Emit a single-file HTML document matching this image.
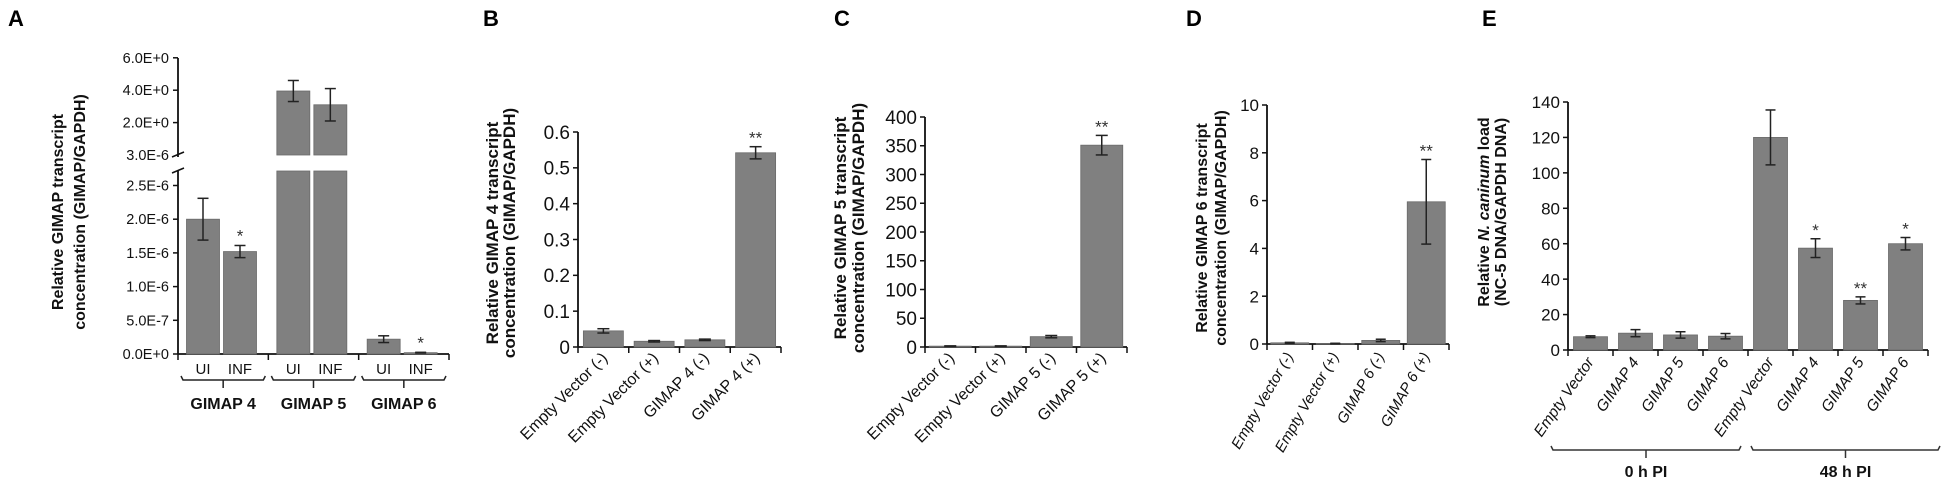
<!DOCTYPE html>
<html><head><meta charset="utf-8"><style>
html,body{margin:0;padding:0;background:#fff;}
svg{display:block;font-family:"Liberation Sans",Arial,sans-serif;}
</style></head><body>
<svg id="fig" width="1949" height="486" viewBox="0 0 1949 486"></svg>
<script>
// ---- Data ----
const aGroups = ["GIMAP 4","GIMAP 5","GIMAP 6"];
const aSub = ["UI","INF"];
const aLowVals = [2.0e-6,1.52e-6,null,null,2.2e-7,2e-8];
const aLowErr = [0.31e-6,0.09e-6,null,null,0.5e-7,0.5e-8];
const aHighVals = [null,null,3.95,3.1,null,null];
const aHighErr = [null,null,0.65,1.0,null,null];
const aStars = ["","*","","","","*"];
const aLowTicks = ["0.0E+0","5.0E-7","1.0E-6","1.5E-6","2.0E-6","2.5E-6"];
const aLowTickVals = [0,5e-7,1e-6,1.5e-6,2e-6,2.5e-6];
const aHighTicks = ["3.0E-6","2.0E+0","4.0E+0","6.0E+0"];
const aHighTickVals = [0,2,4,6];

const bCats = ["Empty Vector (-)","Empty Vector (+)","GIMAP 4 (-)","GIMAP 4 (+)"];
const bVals = [0.045,0.016,0.02,0.542];
const bErr = [0.006,0.002,0.002,0.017];
const bStars = ["","","","**"];
const bTicks = [0,0.1,0.2,0.3,0.4,0.5,0.6];

const cCats = ["Empty Vector (-)","Empty Vector (+)","GIMAP 5 (-)","GIMAP 5 (+)"];
const cVals = [1.5,1.5,18,351];
const cErr = [0.5,0.5,2,17];
const cStars = ["","","","**"];
const cTicks = [0,50,100,150,200,250,300,350,400];

const dCats = ["Empty Vector (-)","Empty Vector (+)","GIMAP 6 (-)","GIMAP 6 (+)"];
const dVals = [0.05,0.02,0.15,5.95];
const dErr = [0.02,0.01,0.05,1.77];
const dStars = ["","","","**"];
const dTicks = [0,2,4,6,8,10];

const eCats = ["Empty Vector","GIMAP 4","GIMAP 5","GIMAP 6","Empty Vector","GIMAP 4","GIMAP 5","GIMAP 6"];
const eVals = [7.5,9.5,8.5,7.8,120,57.5,28,60];
const eErr = [0.5,2,1.8,1.5,15.5,5.3,2,3.5];
const eStars = ["","","","","","*","**","*"];
const eTicks = [0,20,40,60,80,100,120,140];

// ---- helpers ----
const svg = document.getElementById('fig');
const NS = "http://www.w3.org/2000/svg";
function mk(tag, attrs, parent){
  const el = document.createElementNS(NS, tag);
  for (const k in attrs) el.setAttribute(k, attrs[k]);
  (parent||svg).appendChild(el);
  return el;
}
function txt(s, attrs, parent){ const t = mk('text', attrs, parent); t.textContent = s; return t; }
const BAR = "#808080", BARST = "#6a6a6a";

function errBar(g, cx, yTop, yBot, cap){
  const e = mk('g', {}, g);
  
  
  mk('line',{x1:cx,x2:cx,y1:yTop,y2:yBot,stroke:"#222","stroke-width":1.5},e);
  mk('line',{x1:cx-cap/2,x2:cx+cap/2,y1:yTop,y2:yTop,stroke:"#222","stroke-width":1.5},e);
  mk('line',{x1:cx-cap/2,x2:cx+cap/2,y1:yBot,y2:yBot,stroke:"#222","stroke-width":1.5},e);
}
function yTitle(g, lines, cx, cy, size, gap){
  const t = mk('text',{transform:`translate(${cx},${cy}) rotate(-90)`,"text-anchor":"middle","font-size":size,"font-weight":"bold",fill:"#111"},g);
  
  
  lines.forEach((ln,i)=>{
    const ts = mk('tspan',{x:0,y:i*gap},t);
    if (Array.isArray(ln)) ln.forEach(p=>{ const s=mk('tspan',p.i?{"font-style":"italic"}:{},ts); s.textContent=p.t; });
    else ts.textContent = ln;
  });
}
function panelLetter(s,x,y){
  const t = txt(s,{x:x,y:y,"font-size":22,"font-weight":"bold",fill:"#000"});
  
  
}

function simplePanel(o){
  const g = mk('g',{});
  
  
  const n = o.cats.length;
  const slot = (o.x1 - o.x0)/n;
  const yScale = v => o.y0 - (v - o.tickVals[0])/(o.tickVals[o.tickVals.length-1]-o.tickVals[0])*(o.y0-o.yTop);
  const ya = mk('line',{x1:o.x0,x2:o.x0,y1:o.yTop,y2:o.y0,stroke:"#111","stroke-width":1.8},g);
   
  const xa = mk('line',{x1:o.x0,x2:o.x1,y1:o.y0,y2:o.y0,stroke:"#111","stroke-width":1.8},g);
   
  o.tickVals.forEach(v=>{
    const y = yScale(v);
    mk('line',{x1:o.x0-5,x2:o.x0,y1:y,y2:y,stroke:"#111","stroke-width":1.5},g);
    const t = txt(String(v),{x:o.x0-8,y:y+o.tickSize*0.36,"text-anchor":"end","font-size":o.tickSize,fill:"#111"},g);
     
  });
  for (let i=0;i<=n;i++){
    const x = o.x0 + i*slot;
    mk('line',{x1:x,x2:x,y1:o.y0,y2:o.y0+6,stroke:"#111","stroke-width":1.5},g);
  }
  o.cats.forEach((c,i)=>{
    const cx = o.x0 + (i+0.5)*slot;
    const yv = yScale(o.vals[i]);
    const r = mk('rect',{x:cx-o.barW/2,y:yv,width:o.barW,height:o.y0-yv,fill:BAR,stroke:BARST,"stroke-width":0.8},g);
     
    const eT = yScale(o.vals[i]+o.err[i]), eB = yScale(Math.max(0,o.vals[i]-o.err[i]));
    errBar(g,cx,eT,eB,o.cap);
    if (o.stars[i]){
      const s = txt(o.stars[i],{x:cx,y:eT-3,"text-anchor":"middle","font-size":17,fill:"#333"},g);
       
    }
    const lx = cx + o.lblDx, ly = o.y0 + o.lblDy;
    const l = txt(c,{x:lx,y:ly,"text-anchor":"end","font-size":o.lblSize,"font-style":o.italic?"italic":"normal",fill:"#111",transform:`rotate(${o.angle},${lx},${ly})`},g);
     
  });
  return g;
}

// ---- Panel A ----
(function(){
  const g = mk('g',{});
  
  
  const X0=178, X1=449, Y0=354, BRK_LO=171, BRK_HI=155, YT=58;
  const yLow = v => Y0 - v/0.5e-6*33.7;
  const yHigh = v => BRK_HI - v*16.2;
  mk('line',{x1:X0,x2:X0,y1:YT,y2:157,stroke:"#111","stroke-width":1.8},g);
  mk('line',{x1:X0,x2:X0,y1:170,y2:Y0,stroke:"#111","stroke-width":1.8},g);
  mk('line',{x1:X0-6,x2:X0+6,y1:157,y2:152,stroke:"#111","stroke-width":1.5},g);
  mk('line',{x1:X0-6,x2:X0+6,y1:173,y2:168,stroke:"#111","stroke-width":1.5},g);
  mk('line',{x1:X0,x2:X1,y1:Y0,y2:Y0,stroke:"#111","stroke-width":1.8},g);
  aLowTickVals.forEach((v,i)=>{
    const y=yLow(v);
    mk('line',{x1:X0-5,x2:X0,y1:y,y2:y,stroke:"#111","stroke-width":1.5},g);
    const t=txt(aLowTicks[i],{x:X0-9,y:y+5,"text-anchor":"end","font-size":14.5,fill:"#111"},g);
     
  });
  aHighTickVals.forEach((v,i)=>{
    const y=yHigh(v);
    if (v>0) mk('line',{x1:X0-5,x2:X0,y1:y,y2:y,stroke:"#111","stroke-width":1.5},g);
    const t=txt(aHighTicks[i],{x:X0-9,y:y+5,"text-anchor":"end","font-size":14.5,fill:"#111"},g);
     
  });
  const grpW = (X1-X0)/3;
  for (let k=0;k<=3;k++){ const x=X0+k*grpW; mk('line',{x1:x,x2:x,y1:Y0,y2:Y0+6,stroke:"#111","stroke-width":1.5},g); }
  aLowVals.forEach((v,i)=>{
    const gi = Math.floor(i/2), si = i%2;
    const cx = X0 + gi*grpW + (si===0?25:62);
    const bw = 33;
    if (v!==null){
      const y=yLow(v);
      const r=mk('rect',{x:cx-bw/2,y:y,width:bw,height:Y0-y,fill:BAR,stroke:BARST,"stroke-width":0.8},g);
       
      const eT=yLow(v+aLowErr[i]), eB=yLow(v-aLowErr[i]);
      errBar(g,cx,eT,eB,11);
      if (aStars[i]){ const s=txt(aStars[i],{x:cx,y:eT-4,"text-anchor":"middle","font-size":17,fill:"#333"},g);   }
    } else {
      const hv = aHighVals[i];
      const y=yHigh(hv);
      const r1=mk('rect',{x:cx-bw/2,y:BRK_LO,width:bw,height:Y0-BRK_LO,fill:BAR,stroke:BARST,"stroke-width":0.8},g);
       
      const r2=mk('rect',{x:cx-bw/2,y:y,width:bw,height:BRK_HI-y,fill:BAR,stroke:BARST,"stroke-width":0.8},g);
       
      errBar(g,cx,yHigh(hv+aHighErr[i]),yHigh(hv-aHighErr[i]),11);
    }
    const l=txt(aSub[si],{x:cx,y:374,"text-anchor":"middle","font-size":15,fill:"#111"},g);
     
  });
  aGroups.forEach((gname,gi)=>{
    const xa=X0+gi*grpW+3, xb=X0+(gi+1)*grpW-3, xm=(xa+xb)/2;
    const b=mk('path',{d:`M${xa},376 L${xa+2},380 L${xb-2},380 L${xb},376 M${xm},380 L${xm},388`,fill:"none",stroke:"#222","stroke-width":1.5},g);
     
    const t=txt(gname,{x:xm,y:409,"text-anchor":"middle","font-size":16,"font-weight":"bold",fill:"#111"},g);
     
  });
  yTitle(g,["Relative GIMAP transcript","concentration (GIMAP/GAPDH)"],63,212,16,22);
})();
panelLetter("A",8,26);

// ---- Panels B-E ----
simplePanel({name:'panel-b-chart',cats:bCats,vals:bVals,err:bErr,stars:bStars,tickVals:bTicks,x0:578,x1:781,y0:347,yTop:132,barW:40,cap:12,tickSize:19,lblSize:16,lblDx:5,lblDy:12,angle:-45,italic:false});
yTitle(svg,["Relative GIMAP 4 transcript","concentration (GIMAP/GAPDH)"],498,233,17,17);
panelLetter("B",483,26);

simplePanel({name:'panel-c-chart',cats:cCats,vals:cVals,err:cErr,stars:cStars,tickVals:cTicks,x0:925,x1:1127,y0:347,yTop:117,barW:42,cap:12,tickSize:19,lblSize:16,lblDx:5,lblDy:12,angle:-45,italic:false});
yTitle(svg,["Relative GIMAP 5 transcript","concentration (GIMAP/GAPDH)"],846,228,17,18);
panelLetter("C",834,26);

simplePanel({name:'panel-d-chart',cats:dCats,vals:dVals,err:dErr,stars:dStars,tickVals:dTicks,x0:1267,x1:1449,y0:344,yTop:105,barW:38,cap:10,tickSize:17,lblSize:15,lblDx:4,lblDy:12,angle:-60,italic:true});
yTitle(svg,["Relative GIMAP 6 transcript","concentration (GIMAP/GAPDH)"],1207,228,16,19);
panelLetter("D",1186,26);

simplePanel({name:'panel-e-chart',cats:eCats,vals:eVals,err:eErr,stars:eStars,tickVals:eTicks,x0:1568,x1:1928,y0:350,yTop:102,barW:34,cap:10,tickSize:17,lblSize:15.5,lblDx:4,lblDy:12,angle:-55,italic:true});
yTitle(svg,[[{t:"Relative  "},{t:"N. caninum",i:true},{t:" load"}],"(NC-5 DNA/GAPDH  DNA)"],1489,212,16,17);
panelLetter("E",1482,26);

[["0 h PI",1551,1741],["48 h PI",1751,1940]].forEach(b=>{
  const xm=(b[1]+b[2])/2;
  const p=mk('path',{d:`M${b[1]},446 L${b[1]+2},450 L${b[2]-2},450 L${b[2]},446 M${xm},450 L${xm},458`,fill:"none",stroke:"#333","stroke-width":1.5});
   
  const t=txt(b[0],{x:xm,y:477,"text-anchor":"middle","font-size":16,"font-weight":"bold",fill:"#111"});
   
});
</script>
</body></html>
